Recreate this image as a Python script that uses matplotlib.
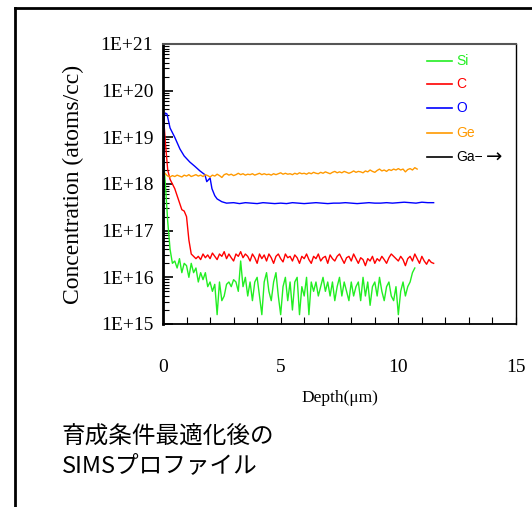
import matplotlib
matplotlib.use("Agg")
import matplotlib.pyplot as plt
import numpy as np
from matplotlib.lines import Line2D
from matplotlib.ticker import LogLocator, MultipleLocator, FixedLocator

# SIMS depth profile, concentrations stored as log10(atoms/cc)
si_depth = np.round(np.arange(0, 10.75, 0.1), 2)
si_log = [18.7, 18.0, 17.2, 16.6, 16.3, 16.35, 16.2, 16.4, 16.1, 16.3,
          16.25, 16.0, 16.3, 16.1, 16.2, 15.9, 16.1, 15.95, 16.1, 15.8,
          15.9, 15.7, 15.85, 15.2, 15.9, 15.5, 15.6, 15.85, 15.9, 15.8,
          15.95, 15.9, 15.7, 16.35, 15.8, 16.0, 15.6, 15.9, 15.5, 15.9,
          16.0, 15.6, 15.2, 15.9, 16.1, 15.7, 15.5, 15.9, 16.1, 15.6,
          15.2, 15.8, 16.0, 15.5, 15.9, 15.3, 15.9, 16.0, 15.2, 15.8,
          15.6, 16.0, 15.2, 15.9, 15.7, 15.9, 15.6, 15.8, 16.0, 15.7,
          15.9, 15.6, 15.9, 15.5, 15.8, 16.0, 15.6, 15.9, 15.7, 15.5,
          15.9, 15.6, 15.8, 15.9, 15.5, 16.0, 15.6, 15.9, 15.4, 15.8,
          15.9, 15.6, 16.0, 15.7, 15.5, 15.8, 15.9, 15.6, 15.5, 15.8,
          15.2, 15.7, 15.9, 15.6, 15.8, 15.9, 16.1, 16.2]

c_depth = np.round(np.arange(0, 11.55, 0.1), 2)
c_log = [19.6, 18.9, 18.3, 18.1, 18.0, 17.9, 17.75, 17.6, 17.45, 17.42,
         17.3, 16.8, 16.5, 16.45, 16.4, 16.45, 16.38, 16.5, 16.42, 16.48,
         16.4, 16.52, 16.45, 16.38, 16.5, 16.45, 16.55, 16.4, 16.5, 16.42,
         16.35, 16.5, 16.45, 16.55, 16.42, 16.5, 16.45, 16.35, 16.5, 16.42,
         16.3, 16.5, 16.4, 16.48, 16.35, 16.5, 16.42, 16.3, 16.45, 16.5,
         16.4, 16.33, 16.5, 16.42, 16.45, 16.35, 16.48, 16.42, 16.3, 16.45,
         16.4, 16.5, 16.38, 16.3, 16.45, 16.4, 16.5, 16.35, 16.42, 16.45,
         16.3, 16.48, 16.4, 16.35, 16.45, 16.5, 16.4, 16.3, 16.42, 16.45,
         16.35, 16.5, 16.4, 16.3, 16.42, 16.38, 16.25, 16.4, 16.35, 16.45,
         16.3, 16.4, 16.35, 16.45, 16.38, 16.3, 16.42, 16.5, 16.45, 16.4,
         16.35, 16.45, 16.38, 16.25, 16.4, 16.45, 16.35, 16.5, 16.4, 16.3,
         16.45, 16.35, 16.28, 16.38, 16.32, 16.3]

o_depth = [0.0, 0.05, 0.1, 0.17, 0.3, 0.5, 0.72, 0.9, 1.14, 1.35,
           1.57, 1.78, 1.86, 1.95, 2.0, 2.08, 2.2, 2.3, 2.5, 2.7,
           3.0, 3.25, 3.5, 3.75, 4.0, 4.25, 4.5, 4.75, 5.0, 5.25,
           5.5, 5.75, 6.0, 6.25, 6.5, 6.75, 7.0, 7.25, 7.5, 7.75,
           8.0, 8.25, 8.5, 8.75, 9.0, 9.25, 9.5, 9.75, 10.0, 10.25,
           10.5, 10.75, 11.0, 11.25, 11.5]
o_log = [14.5, 19.45, 19.52, 19.5, 19.2, 19.0, 18.75, 18.6, 18.47, 18.38,
         18.28, 18.2, 18.05, 18.1, 18.13, 17.9, 17.75, 17.68, 17.62, 17.59,
         17.6, 17.58, 17.6, 17.59, 17.58, 17.6, 17.59, 17.58, 17.59, 17.58,
         17.6, 17.59, 17.58, 17.59, 17.6, 17.59, 17.58, 17.59, 17.59, 17.6,
         17.59, 17.58, 17.59, 17.6, 17.59, 17.59, 17.6, 17.59, 17.6, 17.61,
         17.6, 17.59, 17.61, 17.6, 17.6]

ge_depth = np.round(np.arange(0, 10.85, 0.1), 2)
ge_log = [18.25, 18.22, 18.17, 18.15, 18.18, 18.16, 18.19, 18.17, 18.15, 18.19,
          18.17, 18.2, 18.16, 18.18, 18.2, 18.17, 18.19, 18.16, 18.2, 18.18,
          18.15, 18.19, 18.17, 18.21, 18.18, 18.14, 18.2, 18.22, 18.19, 18.21,
          18.18, 18.2, 18.23, 18.2, 18.22, 18.19, 18.21, 18.2, 18.22, 18.19,
          18.21, 18.23, 18.2, 18.22, 18.2, 18.21, 18.19, 18.22, 18.2, 18.22,
          18.24, 18.21, 18.23, 18.21, 18.22, 18.2, 18.23, 18.21, 18.24, 18.22,
          18.23, 18.21, 18.24, 18.22, 18.25, 18.23, 18.22, 18.25, 18.23, 18.26,
          18.24, 18.22, 18.25, 18.27, 18.24, 18.26, 18.24, 18.27, 18.25, 18.23,
          18.25, 18.28, 18.25, 18.27, 18.26, 18.24, 18.28, 18.26, 18.3, 18.27,
          18.25, 18.29, 18.32, 18.28, 18.3, 18.27, 18.31, 18.29, 18.32, 18.3,
          18.33, 18.3, 18.32, 18.26, 18.31, 18.33, 18.3, 18.35, 18.32]

series_names = ["Si", "C", "O", "Ge", "Ga\u2212"]
series_colors = ["#22ee22", "#ff0000", "#0000ff", "#ff9900", "#000000"]
y_ticklabels = ["1E+15", "1E+16", "1E+17", "1E+18", "1E+19", "1E+20", "1E+21"]

serif = "Liberation Serif"

fig = plt.figure(figsize=(5.32, 5.07), dpi=100)
ax = fig.add_axes([163/532, 1 - 324/507, 353/532, 280/507])

ax.plot(si_depth, 10**np.array(si_log), color=series_colors[0], lw=1.0)
ax.plot(c_depth, 10**np.array(c_log), color=series_colors[1], lw=1.0)
ax.plot(o_depth, 10**np.array(o_log), color=series_colors[2], lw=1.0)
ax.plot(ge_depth, 10**np.array(ge_log), color=series_colors[3], lw=1.0)

ax.set_yscale("log")
ax.set_ylim(1e15, 1e21)
ax.set_xlim(0, 15)

ax.yaxis.set_major_locator(FixedLocator([10.0**k for k in range(15, 22)]))
ax.set_yticklabels(y_ticklabels, fontfamily=serif, fontsize=14)
ax.yaxis.set_minor_locator(LogLocator(base=10, subs=np.arange(2, 10)))
ax.yaxis.set_minor_formatter(plt.NullFormatter())
ax.tick_params(axis="y", which="major", direction="in", length=7, width=1.2, pad=7)
ax.tick_params(axis="y", which="minor", direction="in", length=4, width=0.8)

ax.xaxis.set_major_locator(MultipleLocator(5))
ax.xaxis.set_minor_locator(MultipleLocator(1))
ax.tick_params(axis="x", which="both", direction="in", length=5, width=0.8,
               labelsize=14, pad=25)
for lab in ax.get_xticklabels():
    lab.set_fontfamily(serif)

ax.spines["left"].set_linewidth(2.0)
ax.spines["bottom"].set_linewidth(1.3)
ax.spines["top"].set_linewidth(1.5)
ax.spines["top"].set_color("#555555")
ax.spines["right"].set_linewidth(1.0)

ax.set_ylabel("Concentration (atoms/cc)", fontfamily=serif, fontsize=17)
ax.yaxis.set_label_coords(-0.225, 0.5)
ax.set_xlabel("Depth(\u03bcm)", fontfamily=serif, fontsize=12.5)
ax.xaxis.set_label_coords(0.5, -0.235)

# legend drawn by hand at the right of the plot
leg_y = [61, 84, 108, 133, 157]
for name, col, yp in zip(series_names, series_colors, leg_y):
    yf = 1 - yp / 507
    fig.add_artist(Line2D([427/532, 452/532], [yf, yf], color=col, lw=1.2))
    fig.text(456/532, yf, name, color=col, fontsize=10, va="center",
             fontfamily=["Liberation Sans", "DejaVu Sans"])
# arrow after the Ga label: Ga is off scale
fig.text(486/532, 1 - 157/507, "\u2192", fontsize=14, va="center",
         fontfamily="DejaVu Sans", color="black")

fig.text(62/532, 1 - 451/507, "育成条件最適化後の\nSIMSプロファイル",
         fontsize=17, va="center", ha="left", linespacing=1.3,
         fontfamily=["Noto Sans CJK JP", "DejaVu Sans"])

# outer frame
fig.add_artist(Line2D([15/532, 15/532], [0, 1 - 8/507], color="black", lw=2.0))
fig.add_artist(Line2D([15/532, 1], [1 - 8/507, 1 - 8/507], color="black", lw=2.0))

fig.savefig("out.png", dpi=100)
